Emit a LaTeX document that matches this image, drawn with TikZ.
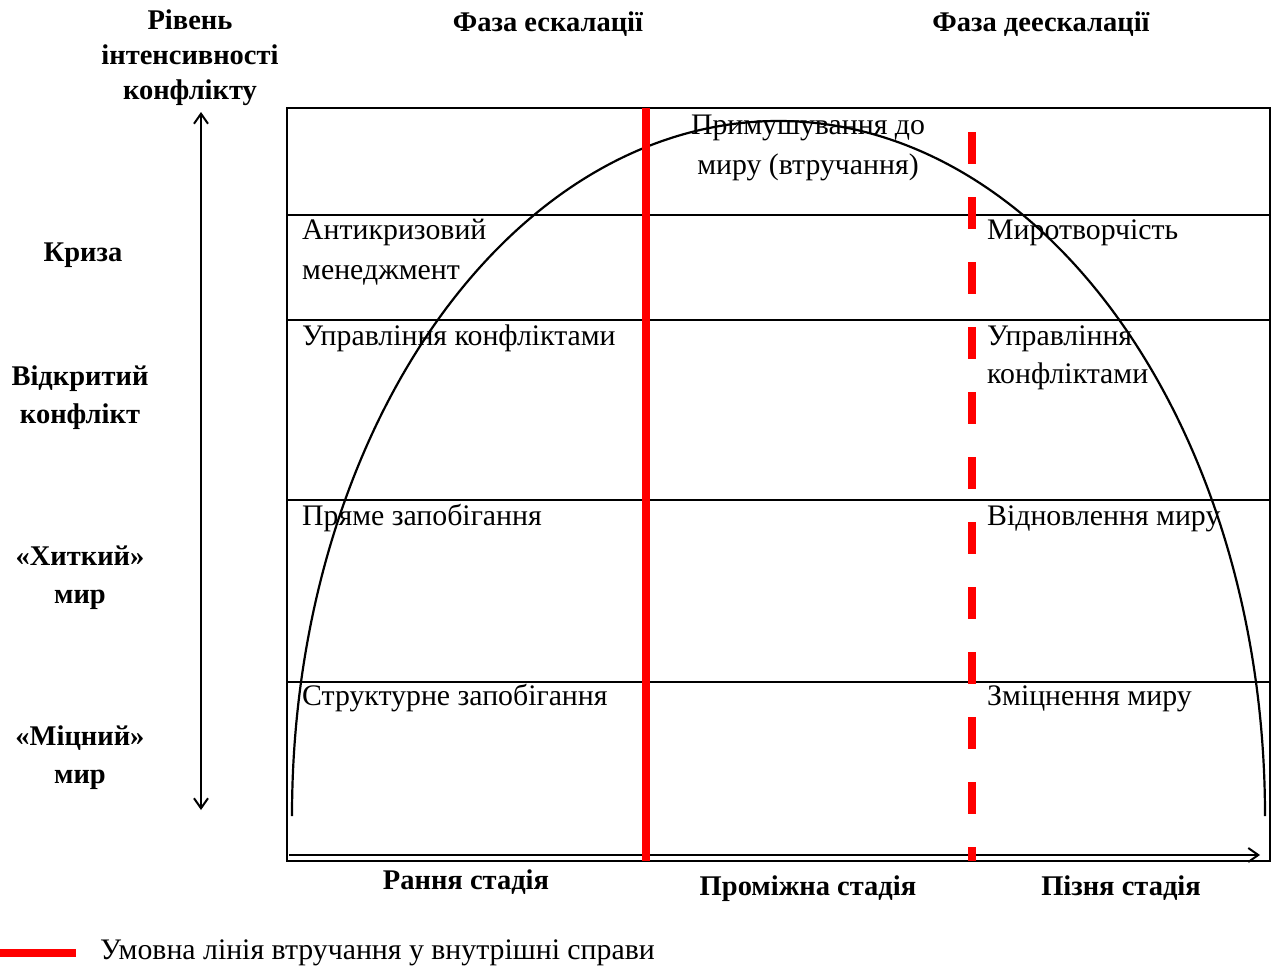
\documentclass[tikz,border=0pt]{standalone}
\usepackage{fontspec}
\setmainfont{Liberation Serif}
\usetikzlibrary{arrows.meta}
\definecolor{redline}{RGB}{255,0,0}
\tikzset{mytip/.tip={Straight Barb[length=10pt,width=14pt,line width=2pt]}}
\begin{document}
\begin{tikzpicture}[x=1pt,y=-1pt,
  cell/.style={anchor=base west,inner sep=0pt,font=\fontsize{29.8}{33}\selectfont},
  ctext/.style={anchor=base,inner sep=0pt,font=\fontsize{29.8}{33}\selectfont},
  blab/.style={anchor=base,inner sep=0pt,font=\fontsize{28.5}{32}\selectfont\bfseries},
  grid/.style={line width=2pt},
]
\useasboundingbox (0,0) rectangle (1275,969);
% frame
\coordinate (tl) at (287,108);
\coordinate (br) at (1270,861);
\draw[grid] (tl) rectangle (br);
\foreach \y/\n in {215/a,320/b,500/c,682/d}{
  \coordinate (l\n) at (287,\y); \coordinate (r\n) at (1270,\y);
  \draw[grid] (l\n) -- (r\n);
}
% bottom axis
\coordinate (ax0) at (289,855);
\coordinate (ax1) at (1260,855);
\draw[grid,-mytip] (ax0) -- (ax1);
% vertical double arrow
\coordinate (v0) at (201,112);
\coordinate (v1) at (201,810);
\draw[grid,mytip-mytip] (v0) -- (v1);
% curve (half ellipse)
\coordinate (e0) at (292,816);
\draw[line width=2.2pt] (e0) arc[start angle=180,end angle=360,x radius=486.5,y radius=695];
% red lines
\coordinate (s0) at (646,108); \coordinate (s1) at (646,861);
\draw[redline,line width=8pt] (s0) -- (s1);
\coordinate (d0) at (972,132); \coordinate (d1) at (972,861);
\draw[redline,line width=8pt,dash pattern=on 32pt off 33pt] (d0) -- (d1);
% top labels
\node[blab] (h1) at (190,29) {Рівень};
\node[blab] (h2) at (190,64) {інтенсивності};
\node[blab] (h3) at (190,99) {конфлікту};
\node[blab] (f1) at (548,31) {Фаза ескалації};
\node[blab] (f2) at (1041,31) {Фаза деескалації};
% left labels
\node[blab] (k1) at (83,261) {Криза};
\node[blab] (o1) at (80,385) {Відкритий};
\node[blab] (o2) at (80,423) {конфлікт};
\node[blab] (x1) at (80,565) {«Хиткий»};
\node[blab] (x2) at (80,603) {мир};
\node[blab] (m1) at (80,745) {«Міцний»};
\node[blab] (m2) at (80,783) {мир};
% bottom labels
\node[blab] (b1) at (466,889) {Рання стадія};
\node[blab] (b2) at (808,895) {Проміжна стадія};
\node[blab] (b3) at (1121,895) {Пізня стадія};
% cells
\node[ctext] (p1) at (808,134) {Примушування до};
\node[ctext] (p2) at (808,174) {миру (втручання)};
\node[cell] (c1) at (302,239) {Антикризовий};
\node[cell] (c2) at (302,279) {менеджмент};
\node[cell] (c3) at (302,345) {Управління конфліктами};
\node[cell] (c4) at (302,525) {Пряме запобігання};
\node[cell] (c5) at (302,705) {Структурне запобігання};
\node[cell] (r1) at (987,239) {Миротворчість};
\node[cell] (r2) at (987,345) {Управління};
\node[cell] (r3) at (987,383) {конфліктами};
\node[cell] (r4) at (987,525) {Відновлення миру};
\node[cell] (r5) at (987,705) {Зміцнення миру};
% legend
\coordinate (lg0) at (0,953); \coordinate (lg1) at (76,953);
\draw[redline,line width=8pt] (lg0) -- (lg1);
\node[cell] (lgt) at (100,959) {Умовна лінія втручання у внутрішні справи};
\end{tikzpicture}
\end{document}
